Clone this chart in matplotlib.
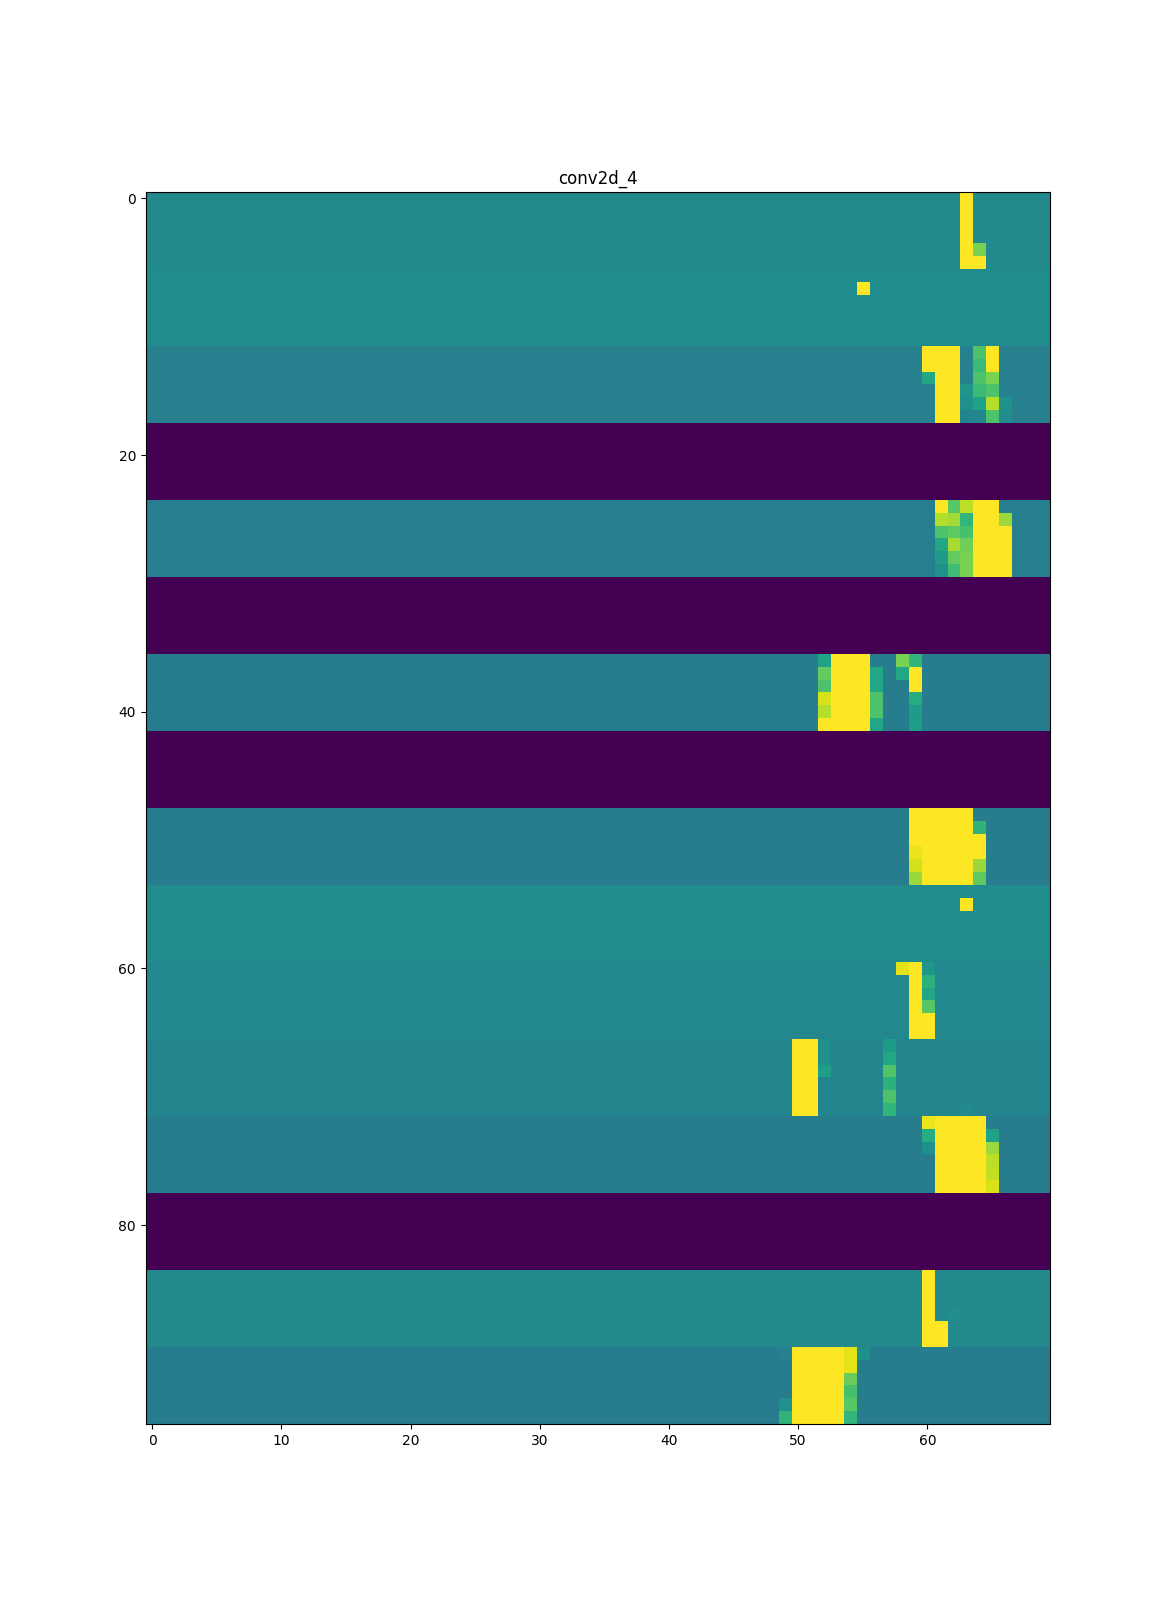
import numpy as np
import matplotlib
matplotlib.use("Agg")
import matplotlib.pyplot as plt

layer_name = "conv2d_4"
n_rows = 96
n_cols = 70
rows_per_band = 6

# one activation level per group of six rows
band_levels = [0.475, 0.485, 0.435, 0.0, 0.43, 0.0, 0.42, 0.0,
               0.42, 0.485, 0.465, 0.45, 0.425, 0.0, 0.47, 0.42]

# saturated blocks: first row, last row, first column, last column
sat_row_first = [0, 5, 7, 12, 12, 14, 24, 25, 26, 36, 37, 41, 48, 50, 51, 51, 55, 60, 64, 66, 72, 84, 88, 90]
sat_row_last  = [5, 5, 7, 13, 13, 17, 25, 25, 29, 41, 38, 41, 49, 50, 53, 51, 55, 63, 65, 71, 77, 89, 89, 95]
sat_col_first = [63, 64, 55, 60, 65, 61, 64, 64, 64, 53, 59, 52, 59, 59, 60, 64, 63, 59, 59, 50, 61, 60, 61, 50]
sat_col_last  = [63, 64, 55, 62, 65, 62, 65, 65, 66, 55, 59, 52, 63, 64, 63, 64, 63, 59, 60, 51, 64, 60, 61, 53]

# single intermediate cells
cell_rows = [4,
             12, 13, 14, 14, 14,
             15, 15, 15, 16, 16, 16, 16, 17, 17, 17, 17,
             24, 24, 24,
             25, 25, 25, 25,
             26, 26, 26, 27, 27, 27, 28, 28, 28, 29, 29, 29,
             36, 36, 36,
             37, 37, 37, 38, 38, 39, 39, 39, 40, 40, 40, 41, 41,
             49, 51, 52, 52, 53, 53,
             60, 60, 61, 62, 63,
             66, 66, 67, 67, 68, 68, 69, 70, 71, 71,
             72, 73, 73, 74, 74, 75, 76, 77,
             87,
             90, 90, 90, 91, 92, 93, 94, 94, 95, 95]
cell_cols = [64,
             64, 64, 60, 64, 65,
             63, 64, 65, 63, 64, 65, 66, 63, 64, 65, 66,
             62, 63, 61,
             61, 62, 63, 66,
             61, 62, 63, 61, 62, 63, 61, 62, 63, 61, 62, 63,
             52, 58, 59,
             52, 56, 58, 52, 56, 52, 56, 59, 52, 56, 59, 56, 59,
             64, 59, 59, 64, 59, 64,
             58, 60, 60, 60, 60,
             52, 57, 52, 57, 52, 57, 57, 57, 57, 63,
             60, 60, 65, 60, 65, 65, 65, 65,
             62,
             49, 54, 55, 54, 54, 54, 49, 54, 49, 54]
cell_vals = [0.80,
             0.72, 0.68, 0.60, 0.72, 0.80,
             0.52, 0.68, 0.72, 0.50, 0.58, 0.89, 0.51, 0.45, 0.46, 0.72, 0.49,
             0.74, 0.90, 1.00,
             0.89, 0.86, 0.66, 0.85,
             0.72, 0.75, 0.71, 0.60, 0.87, 0.78, 0.55, 0.76, 0.80, 0.50, 0.69, 0.80,
             0.58, 0.80, 0.66,
             0.76, 0.60, 0.60, 0.72, 0.60, 0.94, 0.72, 0.62, 0.89, 0.72, 0.55, 0.60, 0.56,
             0.65, 0.97, 0.93, 0.85, 0.85, 0.75,
             0.96, 0.53, 0.64, 0.60, 0.74,
             0.50, 0.55, 0.50, 0.60, 0.56, 0.73, 0.64, 0.72, 0.66, 0.47,
             0.97, 0.62, 0.58, 0.50, 0.85, 0.90, 0.91, 0.94,
             0.49,
             0.44, 0.96, 0.50, 0.96, 0.77, 0.71, 0.50, 0.74, 0.65, 0.66]

activation = np.repeat(band_levels, rows_per_band)[:, None] * np.ones((n_rows, n_cols))
for r0, r1, c0, c1 in zip(sat_row_first, sat_row_last, sat_col_first, sat_col_last):
    activation[r0:r1 + 1, c0:c1 + 1] = 1.0
activation[cell_rows, cell_cols] = cell_vals

fig, ax = plt.subplots(figsize=(11.66, 16), dpi=100)
fig.subplots_adjust(right=0.9006)
ax.imshow(activation, aspect="auto", cmap="viridis", vmin=0.0, vmax=1.0, interpolation="nearest")
ax.set_title(layer_name)
fig.savefig("out.png", dpi=100)
